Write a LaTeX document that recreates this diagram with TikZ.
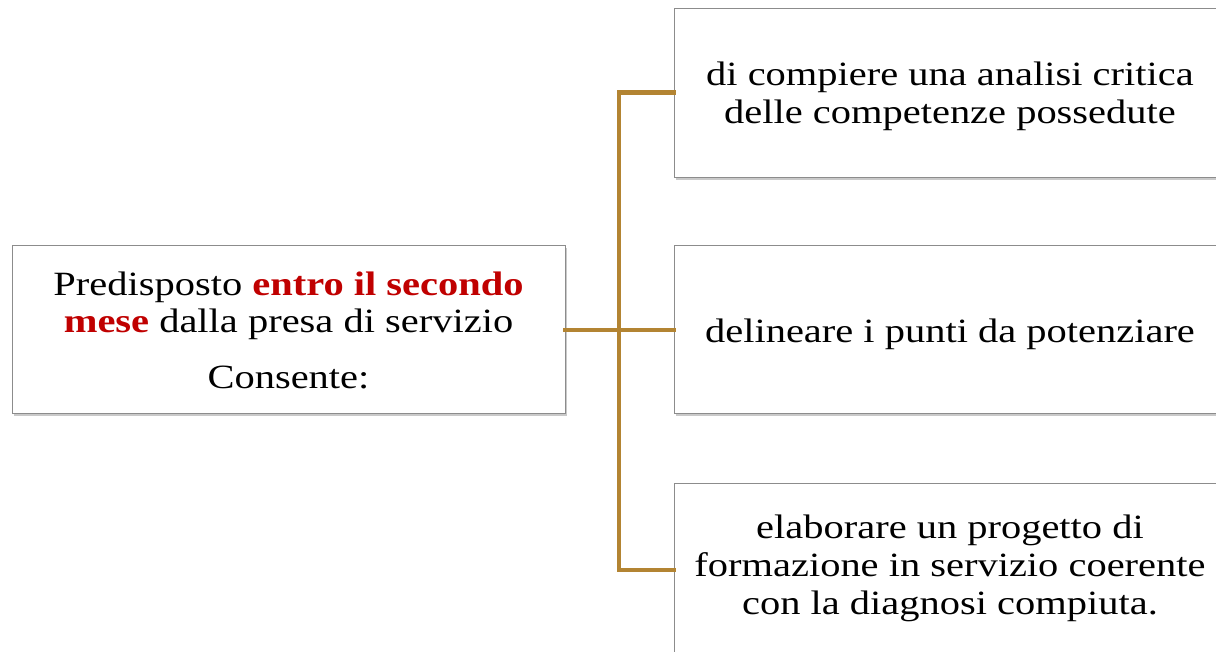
\documentclass[tikz,border=0pt]{standalone}
\usepackage{fontspec}
\setmainfont{Liberation Serif}[FakeStretch=1.19]
\usetikzlibrary{shadows}
\definecolor{connc}{HTML}{B38432}
\definecolor{hired}{HTML}{C00000}
\newcommand{\boxtxt}[1]{\begin{tabular}[t]{@{}c@{}}#1\end{tabular}}
\tikzset{
  box/.style={draw=black!45, line width=0.8pt, fill=white, rectangle,
    inner sep=0pt, font=\fontsize{34}{38}\selectfont,
    drop shadow={shadow xshift=1.5pt, shadow yshift=-2.5pt, opacity=0.35, fill=black!60}},
  conn/.style={draw=connc, line width=4.5pt, line cap=rect},
}
\begin{document}
\begin{tikzpicture}[x=1pt,y=-1pt]
\clip (0,0) rectangle (1216,651);
\fill[white] (0,0) rectangle (1216,651);
\node[box, minimum width=553pt, minimum height=168pt, font=\fontsize{34}{37}\selectfont,
  text height=10pt, text depth=78pt] (L) at (288.5,329)
  {\boxtxt{Predisposto \textcolor{hired}{\textbf{entro il secondo}}\\\textcolor{hired}{\textbf{mese}} dalla presa di servizio\\[19pt]Consente:}};
\node[box, minimum width=552pt, minimum height=169pt, text height=10pt, text depth=25pt] (B1) at (950,92.5)
  {\boxtxt{di compiere una analisi critica\\delle competenze possedute}};
\node[box, minimum width=552pt, minimum height=168pt, text height=30pt, text depth=4pt] (B2) at (950,329)
  {\boxtxt{delineare i punti da potenziare}};
\node[box, minimum width=552pt, minimum height=174pt, text height=10pt, text depth=74pt] (B3) at (950,570)
  {\boxtxt{elaborare un progetto di\\formazione in servizio coerente\\con la diagnosi compiuta.}};
\coordinate (J) at (619,330);
\draw[conn] (L.east |- J) -- (J);
\draw[conn] (J) -- (B2.west |- J);
\draw[conn] (B1.west) -| (J) |- (B3.west);
\end{tikzpicture}
\end{document}
